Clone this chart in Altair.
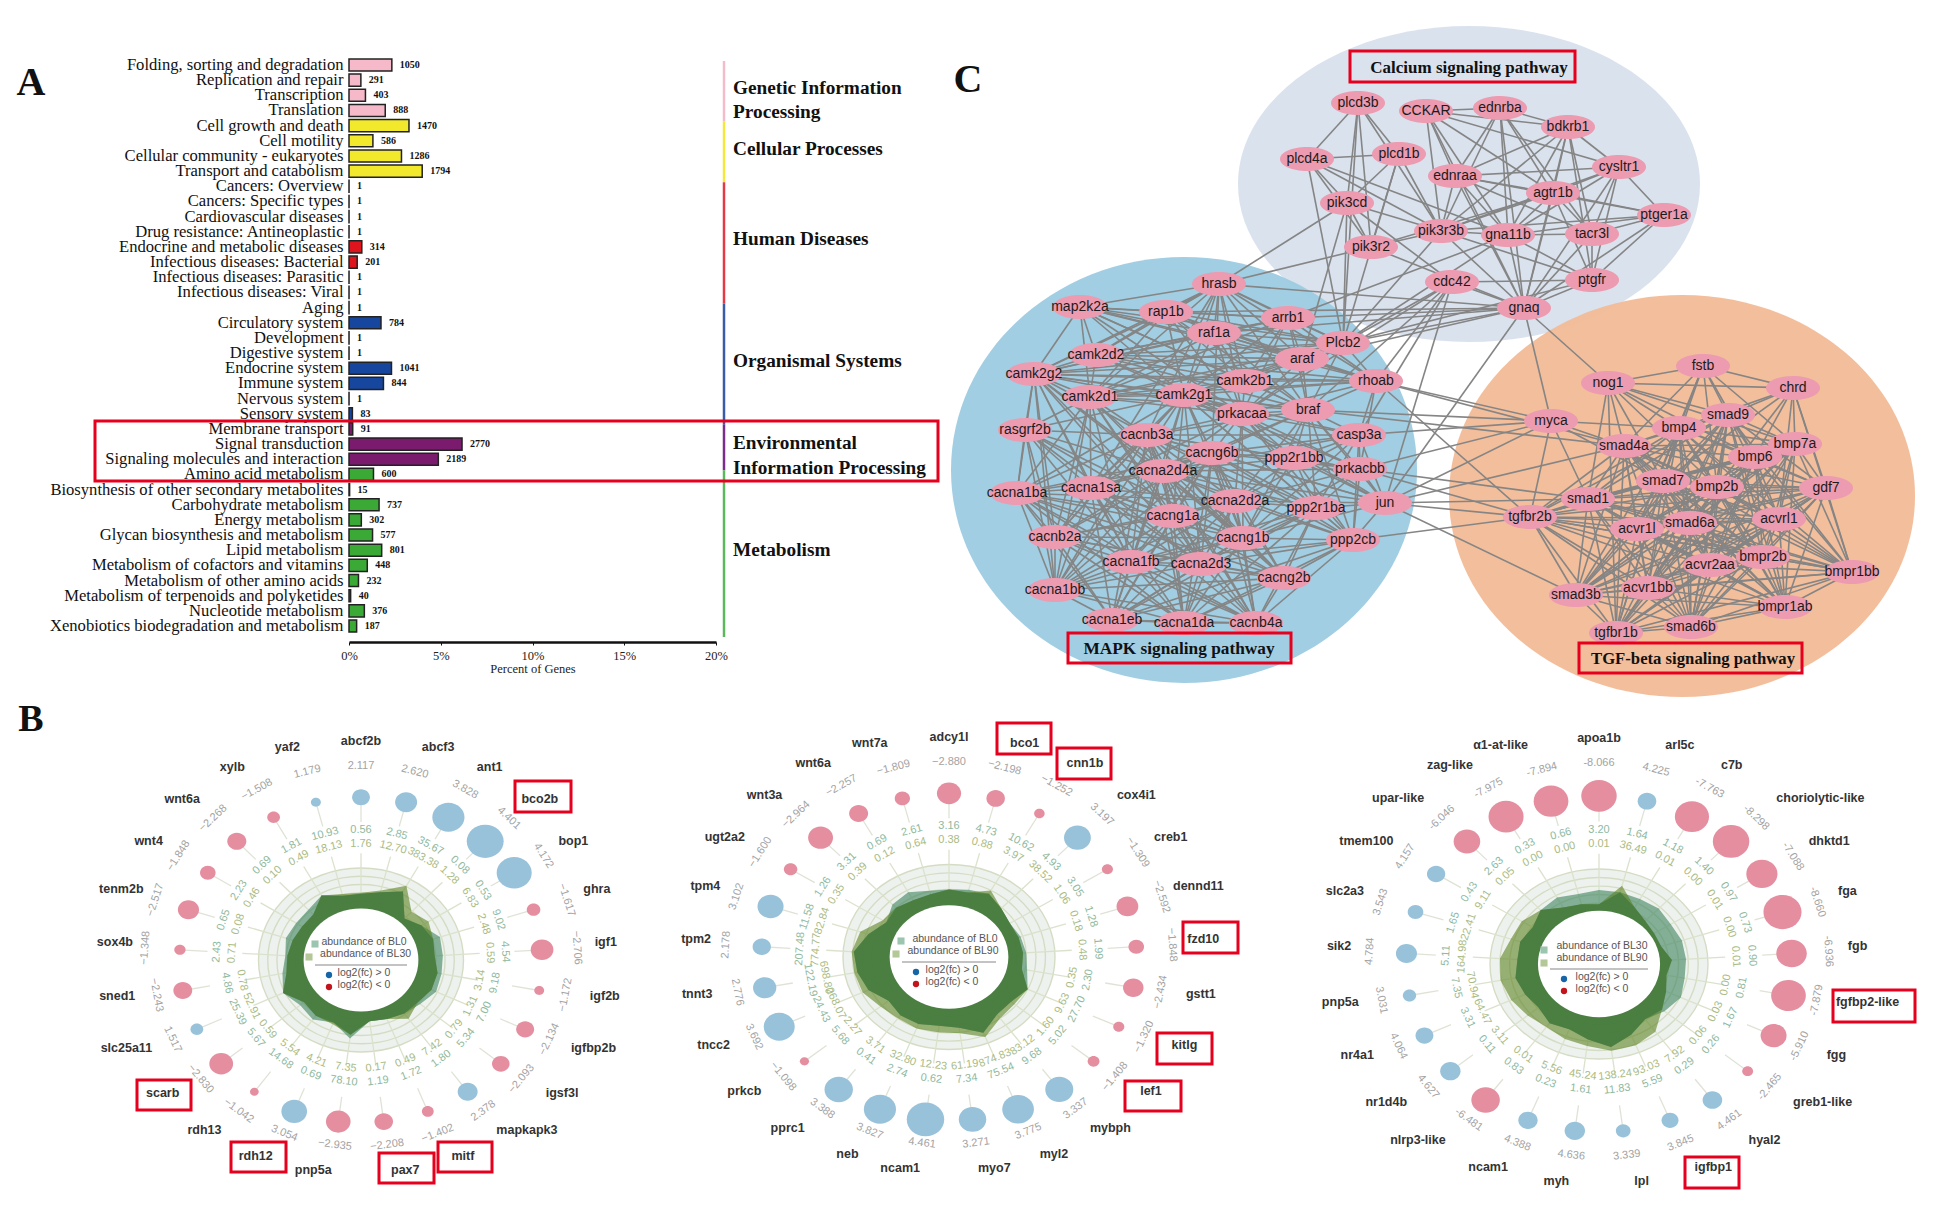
import numpy as np
import pandas as pd
import altair as alt

# ---------- Panel A ----------
A_CATS = ["Folding, sorting and degradation","Replication and repair","Transcription","Translation",
 "Cell growth and death","Cell motility","Cellular community - eukaryotes","Transport and catabolism",
 "Cancers: Overview","Cancers: Specific types","Cardiovascular diseases","Drug resistance: Antineoplastic",
 "Endocrine and metabolic diseases","Infectious diseases: Bacterial","Infectious diseases: Parasitic","Infectious diseases: Viral",
 "Aging","Circulatory system","Development","Digestive system","Endocrine system","Immune system","Nervous system","Sensory system",
 "Membrane transport","Signal transduction","Signaling molecules and interaction",
 "Amino acid metabolism","Biosynthesis of other secondary metabolites","Carbohydrate metabolism","Energy metabolism",
 "Glycan biosynthesis and metabolism","Lipid metabolism","Metabolism of cofactors and vitamins","Metabolism of other amino acids",
 "Metabolism of terpenoids and polyketides","Nucleotide metabolism","Xenobiotics biodegradation and metabolism"]
A_COUNTS = [1050,291,403,888,1470,586,1286,1794,1,1,1,1,314,201,1,1,1,784,1,1,1041,844,1,83,91,2770,2189,600,15,737,302,577,801,448,232,40,376,187]
A_TOTAL = 44970
A_GROUP_NAMES = ["Genetic","Cellular","Human","Organismal","Environmental","Metabolism"]
A_GROUP_ROWS = [0,4,8,16,24,27,38]
A_BAR_COLORS = ["#f6b9c9","#f2e92d","#e0141c","#17469e","#7a1b6e","#3aa935"]
A_LINE_COLORS = ["#f4bccb","#f5e83b","#e63946","#3a5ca8","#7b2d8b","#5cb85c"]

# ---------- Panel C ----------
NODES = {
"plcd3b":(1358,103),"CCKAR":(1426,111),"ednrba":(1500,108),"bdkrb1":(1568,127),"plcd4a":(1307,159),"plcd1b":(1399,154),
"cysltr1":(1619,167),"ednraa":(1455,176),"agtr1b":(1553,193),"pik3cd":(1347,203),"ptger1a":(1664,215),"pik3r3b":(1441,231),
"gna11b":(1508,235),"tacr3l":(1592,234),"pik3r2":(1371,247),"ptgfr":(1592,280),"cdc42":(1452,282),"hrasb":(1219,284),
"gnaq":(1524,308),"map2k2a":(1080,307),"rap1b":(1166,312),"arrb1":(1288,318),"raf1a":(1214,333),"Plcb2":(1343,343),
"camk2d2":(1096,355),"araf":(1302,359),"camk2g2":(1034,374),"rhoab":(1376,381),"camk2b1":(1245,381),"camk2d1":(1090,397),
"camk2g1":(1184,395),"braf":(1308,410),"prkacaa":(1242,414),"myca":(1551,421),"fstb":(1703,366),"nog1":(1608,383),
"chrd":(1793,388),"smad9":(1728,415),"bmp4":(1679,428),"rasgrf2b":(1025,430),"cacnb3a":(1147,435),"casp3a":(1359,435),
"smad4a":(1624,446),"bmp7a":(1795,444),"cacng6b":(1212,453),"bmp6":(1755,457),"ppp2r1bb":(1294,458),"prkacbb":(1360,469),
"cacna2d4a":(1163,471),"cacna1ba":(1017,493),"cacna1sa":(1091,488),"smad7":(1663,481),"bmp2b":(1717,487),"gdf7":(1826,488),
"cacna2d2a":(1235,501),"jun":(1385,503),"smad1":(1588,499),"ppp2r1ba":(1316,508),"cacng1a":(1173,516),"tgfbr2b":(1530,517),
"acvrl1":(1779,519),"smad6a":(1690,523),"acvr1l":(1637,529),"cacnb2a":(1055,537),"cacng1b":(1243,538),"ppp2cb":(1353,540),
"acvr2aa":(1710,565),"bmpr2b":(1763,557),"cacna1fb":(1131,562),"cacna2d3":(1201,564),"bmpr1bb":(1852,572),"cacng2b":(1284,578),
"smad3b":(1576,595),"acvr1bb":(1648,588),"cacna1bb":(1055,590),"bmpr1ab":(1785,607),"cacna1eb":(1112,620),"cacna1da":(1184,623),
"cacnb4a":(1256,623),"smad6b":(1691,627),"tgfbr1b":(1616,633)}
CLIQUES = [
 "cacna1ba cacna1sa cacna1bb cacna1eb cacna1da cacna1fb cacnb2a cacnb3a cacnb4a cacng1a cacng1b cacng2b cacng6b cacna2d2a cacna2d3 cacna2d4a",
 "camk2d2 camk2g2 camk2b1 camk2d1 camk2g1 hrasb rap1b map2k2a raf1a arrb1 araf braf rhoab Plcb2 prkacaa",
 "cacnb3a cacng6b ppp2r1bb cacna2d4a cacna2d2a ppp2r1ba cacng1b ppp2cb prkacbb prkacaa camk2g1 casp3a braf jun",
 "rasgrf2b cacna1ba cacna1sa cacnb2a cacna1bb cacna1fb cacng1a cacng1b cacna2d3 cacna2d4a cacnb3a camk2d1 camk2g1 camk2g2",
 "ppp2cb ppp2r1ba cacna1fb cacna2d3 cacng2b cacnb4a cacna1da cacna1eb",
 "hrasb camk2g1 prkacaa cacng6b cacnb3a cacna1sa",
 "fstb nog1 chrd smad9 bmp4 bmp6 bmp7a bmp2b",
 "smad4a smad9 smad7 smad1 smad6a smad3b smad6b bmp4 bmp6 bmp7a bmp2b gdf7 acvrl1 acvr1l acvr2aa acvr1bb bmpr2b bmpr1bb bmpr1ab tgfbr1b tgfbr2b",
 "nog1 smad4a smad1 smad7 tgfbr1b",
 "chrd gdf7 bmpr1bb acvrl1 bmp2b smad7",
 "fstb smad4a smad7 acvr1l bmp2b",
 "tgfbr2b tgfbr1b smad3b acvr1bb smad6b bmpr1ab",
]
EDGE_LISTS = {
"plcd3b":"plcd4a plcd1b pik3cd pik3r2 pik3r3b Plcb2",
"CCKAR":"ednrba bdkrb1 ednraa cysltr1 agtr1b pik3r3b gna11b gnaq",
"ednrba":"bdkrb1 ednraa agtr1b gna11b pik3r3b tacr3l gnaq",
"bdkrb1":"ednraa cysltr1 agtr1b pik3r3b gna11b tacr3l gnaq ptgfr",
"plcd4a":"plcd1b pik3cd pik3r2 pik3r3b gna11b Plcb2",
"plcd1b":"pik3cd pik3r3b pik3r2 Plcb2",
"cysltr1":"ednraa agtr1b ptger1a pik3r3b gna11b tacr3l ptgfr gnaq",
"ednraa":"agtr1b ptger1a gna11b tacr3l pik3r3b gnaq",
"agtr1b":"ptger1a pik3r3b gna11b tacr3l ptgfr gnaq pik3r2",
"ptger1a":"gna11b tacr3l pik3r3b ptgfr gnaq",
"pik3r3b":"gna11b pik3r2 ptgfr gnaq pik3cd Plcb2",
"gna11b":"tacr3l ptgfr gnaq Plcb2 arrb1",
"tacr3l":"ptgfr gnaq",
"pik3cd":"pik3r2 hrasb cdc42 Plcb2 araf",
"pik3r2":"hrasb gnaq",
"ptgfr":"cdc42 gnaq Plcb2",
"cdc42":"gnaq braf rhoab prkacaa casp3a Plcb2",
"gnaq":"hrasb rap1b arrb1 Plcb2 nog1 raf1a araf",
"rhoab":"myca smad4a tgfbr2b casp3a prkacbb",
"braf":"myca smad4a prkacbb",
"jun":"myca tgfbr2b smad1 smad3b smad4a cdc42 gnaq",
"ppp2cb":"tgfbr2b",
"casp3a":"myca jun",
"prkacbb":"smad1 tgfbr2b myca jun",
"ppp2r1ba":"jun",
"myca":"smad4a bmp4 smad1 smad7 tgfbr2b gnaq",
}
BIG_NAMES = ["Calcium","MAPK","TGF"]
BIG_CX = [1469,1184,1682]
BIG_CY = [184,470,496]
BIG_RX = [231,233,233]
BIG_RY = [158,213,201]
BIG_COLORS = ["#d8e0ec","#9ccbe0","#f2bb96"]

# ---------- Panel B ----------
B1_GENES = ["abcf2b","abcf3","ant1","bco2b","bop1","ghra","igf1","igf2b","igfbp2b","igsf3l","mapkapk3","mitf","pax7","pnp5a","rdh12","rdh13","scarb","slc25a11","sned1","sox4b","tenm2b","wnt4","wnt6a","xylb","yaf2"]
B1_FC = [2.117,2.620,3.828,4.401,4.172,-1.617,-2.706,-1.172,-2.134,-2.093,2.378,-1.402,-2.208,-2.935,3.054,-1.042,-2.830,1.517,-2.243,-1.348,-2.517,-1.848,-2.268,-1.508,1.179]
B1_A = [0.56,2.85,35.67,0.08,0.53,9.02,4.54,9.18,7.00,5.34,1.80,1.72,1.19,78.10,0.69,14.68,5.67,25.39,4.86,2.43,0.65,2.23,0.69,1.81,10.93]
B1_B = [1.76,12.70,383.38,1.28,6.83,2.48,0.59,3.14,1.31,0.79,7.42,0.49,0.17,7.35,4.21,5.54,0.59,52.91,0.78,0.71,0.08,0.46,0.10,0.49,18.13]
B1_RA = [.72,.76,.85,.62,.70,.81,.80,.80,.81,.75,.72,.69,.67,.86,.73,.80,.77,.84,.78,.74,.77,.75,.75,.80,.72]
B1_RB = [.73,.78,.92,.72,.78,.74,.72,.76,.76,.72,.79,.69,.67,.82,.75,.75,.72,.84,.74,.72,.70,.68,.68,.80,.74]
B2_GENES = ["adcy1l","bco1","cnn1b","cox4i1","creb1","dennd11","fzd10","gstt1","kitlg","lef1","mybph","myl2","myo7","ncam1","neb","pprc1","prkcb","tncc2","tnnt3","tpm2","tpm4","ugt2a2","wnt3a","wnt6a","wnt7a"]
B2_FC = [-2.880,-2.198,-1.252,3.197,-1.309,-2.592,-1.848,-2.434,-1.320,-1.408,3.337,3.775,3.271,4.461,3.827,3.388,-1.098,3.692,2.776,2.178,3.102,-1.600,-2.964,-2.257,-1.809]
B2_A = [3.16,4.73,10.62,4.93,3.05,1.28,1.99,2.30,27.70,5.02,9.68,75.54,7.34,0.62,2.74,0.41,5.68,24.43,122.19,207.48,11.58,1.26,3.31,0.69,2.61]
B2_B = [0.38,0.88,3.97,38.52,1.06,0.18,0.48,0.35,9.63,1.60,83.12,874.83,61.19,12.23,32.80,3.71,2.27,268.07,698.80,774.77,82.84,0.35,0.39,0.12,0.64]
B2_RA = [.73,.75,.78,.72,.68,.71,.73,.75,.82,.76,.77,.88,.77,.75,.78,.78,.74,.84,.88,.90,.80,.70,.78,.80,.74]
B2_RB = [.73,.72,.82,.72,.68,.69,.70,.70,.82,.80,.82,.93,.83,.82,.83,.82,.84,.90,.91,.92,.88,.74,.73,.70,.70]
B3_GENES = ["apoa1b","arl5c","c7b","choriolytic-like","dhktd1","fga","fgb","fgfbp2-like","fgg","greb1-like","hyal2","igfbp1","lpl","myh","ncam1","nlrp3-like","nr1d4b","nr4a1","pnp5a","sik2","slc2a3","tmem100","upar-like","zag-like","α1-at-like"]
B3_FC = [-8.066,4.225,-7.763,-8.298,-7.088,-8.660,-6.936,-7.879,-5.910,-2.465,4.461,3.845,3.339,4.636,4.388,-6.481,4.627,4.064,3.031,4.784,3.543,4.157,-6.046,-7.975,-7.894]
B3_A = [3.20,1.64,1.18,1.40,0.97,0.73,0.90,0.81,1.67,0.26,0.29,5.59,11.83,1.61,0.23,0.83,0.11,3.31,7.35,5.11,1.65,0.43,2.63,0.33,0.66]
B3_B = [0.01,36.49,0.01,0.00,0.01,0.00,0.01,0.00,0.03,0.06,7.92,93.03,138.24,45.24,5.56,0.01,3.11,64.47,70.94,164.98,22.41,9.11,0.05,0.00,0.00]
B3_RA = [.78,.78,.78,.80,.78,.80,.80,.80,.83,.78,.72,.80,.88,.80,.74,.77,.72,.75,.78,.75,.76,.72,.78,.80,.76]
B3_RB = [.63,.85,.68,.62,.60,.60,.67,.63,.68,.75,.88,.92,.92,.87,.85,.82,.85,.89,.92,.91,.85,.84,.78,.68,.65]

# Red annotation frames: left, right, top, bottom on the page
BOXES = [(95,938,421,481),(1350,1575,51,82),(1068,1291,633,663),(1579,1802,643,673),
 (515,571,781,812),(137,191,1080,1110),(231,286,1142,1172),(379,434,1153,1183),(438,492,1142,1172),
 (997,1051,723,754),(1057,1111,748,779),(1183,1238,922,953),(1157,1212,1033,1064),(1125,1181,1081,1111),
 (1685,1739,1157,1188),(1833,1915,990,1022)]
PAGE_TEXTS = [
 ("A",31,83,40,"center"),("B",31,720,38,"center"),("C",968,80,40,"center"),
 ("Genetic Information",733,88,19.3,"left"),("Processing",733,112,19.3,"left"),("Cellular Processes",733,149,19.3,"left"),
 ("Human Diseases",733,239,19.3,"left"),("Organismal Systems",733,361,19.3,"left"),("Environmental",733,443,19.3,"left"),
 ("Information Processing",733,468,19.3,"left"),("Metabolism",733,550,19.3,"left"),
 ("Calcium signaling pathway",1469,68,17,"center"),("MAPK signaling pathway",1179,649,17.3,"center"),("TGF-beta signaling pathway",1693,659,16.7,"center")]

W, H = 1931, 1192
SERIF = "Liberation Serif"
SANS = "Liberation Sans"

def ell(ratio):
    return f"M-1,0A1,{ratio:.4f},0,1,1,1,0A1,{ratio:.4f},0,1,1,-1,0Z"

pageX = alt.Scale(domain=[0,1947], range=[-8,1939])
pageY = alt.Scale(domain=[0,1208], range=[-8,1200])

# ---- A bars ----
group_of = np.searchsorted(A_GROUP_ROWS[1:], np.arange(38), side="right")
dfA = pd.DataFrame({"cat":A_CATS,"count":A_COUNTS,"pct":np.array(A_COUNTS)/A_TOTAL*100,
                    "fill":[A_BAR_COLORS[g] for g in group_of]})
xA = alt.X("pct:Q", scale=alt.Scale(domain=[0,20], range=[341,708]),
           axis=alt.Axis(values=[0,5,10,15,20], labelExpr="datum.value + '%'", title="Percent of Genes", grid=False,
                         offset=-(H-634), labelFont=SERIF, labelFontSize=12.5, labelColor="#222", titleFont=SERIF,
                         titleFontSize=12.5, titleColor="#222", titleFontWeight="normal", domainColor="#111", domainWidth=2.5,
                         tickColor="#111", tickSize=3, labelPadding=4, titlePadding=1, labelFlush=False))
yA = alt.Y("cat:N", sort=A_CATS, title=None,
           scale=alt.Scale(range=[49.4,625.6], paddingInner=0.2, paddingOuter=0.1),
           axis=alt.Axis(offset=-341, domain=False, ticks=False, labelFont=SERIF, labelFontSize=16.6, labelColor="#111",
                         labelLimit=400, labelPadding=6, grid=False, title=None))
barsA = alt.Chart(dfA).mark_bar(stroke="#222", strokeWidth=1.5).encode(x=xA, y=yA, fill=alt.Fill("fill:N", scale=None))
textA = alt.Chart(dfA).mark_text(align="left", dx=8, font=SERIF, fontSize=10, fontWeight="bold", color="#111").encode(x=xA, y=yA, text="count:Q")
panelA = alt.layer(barsA, textA)

dfG = pd.DataFrame({"name":A_GROUP_NAMES,"r0":A_GROUP_ROWS[:-1],"r1":A_GROUP_ROWS[1:],"c":A_LINE_COLORS})
panelG = alt.Chart(dfG).mark_rule(strokeWidth=2.5).encode(
    x=alt.value(716),
    y=alt.Y("r0:Q", scale=alt.Scale(domain=[0,38], range=[53,629]), axis=None),
    y2="r1:Q", color=alt.Color("c:N", scale=None))

# ---- C network ----
def edges():
    seen = {}
    def add(a,b):
        if a!=b and (b,a) not in seen:
            seen[(a,b)] = True
    for c in CLIQUES:
        n = c.split()
        for i in range(len(n)):
            for j in range(i+1,len(n)):
                add(n[i],n[j])
    for a,l in EDGE_LISTS.items():
        for b in l.split():
            add(a,b)
    return list(seen)
E = edges()
dfE = pd.DataFrame({"x":[NODES[a][0] for a,b in E],"y":[NODES[a][1] for a,b in E],
                    "x2":[NODES[b][0] for a,b in E],"y2":[NODES[b][1] for a,b in E]})
dfN = pd.DataFrame({"name":list(NODES),"x":[v[0] for v in NODES.values()],"y":[v[1] for v in NODES.values()]})
px = alt.X("x:Q", scale=pageX, axis=None)
py = alt.Y("y:Q", scale=pageY, axis=None)
big = []
for cx,cy,rx,ry,c in zip(BIG_CX,BIG_CY,BIG_RX,BIG_RY,BIG_COLORS):
    big.append(alt.Chart(pd.DataFrame({"x":[cx],"y":[cy]})).mark_point(
        shape=ell(ry/rx), filled=True, size=(2*rx)**2, color=c, opacity=0.95).encode(x=px,y=py))
edgeC = alt.Chart(dfE).mark_rule(color="#858585", strokeWidth=1.6).encode(x=px,y=py,x2="x2:Q",y2="y2:Q")
nodeC = alt.Chart(dfN).mark_point(shape=ell(12/27), filled=True, size=54**2, color="#ec9bb0", opacity=1).encode(x=px,y=py)
labC = alt.Chart(dfN).mark_text(font=SANS, fontSize=14, color="#1c1c1c").encode(x=px,y=py,text="name:N")
panelC = alt.layer(*big, edgeC, nodeC, labC)

# ---- B radial ----
C_GREEN = "#8fb9a0"; C_OLIVE = "#a9bb84"
def radial(genes, fc, a, b, ra, rb, cx, cy, rx, ry, k, names, sq, dots_x, line_half, txt_dx, minus):
    n = len(genes)
    th = np.arange(n)*2*np.pi/n
    s, c = np.sin(th), np.cos(th)
    deg = np.degrees(th)
    rot = np.where((deg<90)|(deg>270), deg, deg-180)
    ux = alt.Scale(domain=[-1,1], range=[cx-8-rx, cx-8+rx])
    uy = alt.Scale(domain=[-1,1], range=[cy-8+ry, cy-8-ry])
    X = alt.X("x:Q", scale=ux, axis=None); Y = alt.Y("y:Q", scale=uy, axis=None)
    fca = np.array(fc)
    O = pd.DataFrame({"x":[0],"y":[0]})
    def disk(r, **kw):
        return alt.Chart(O).mark_point(shape=ell(ry/rx), size=(2*r*rx)**2, opacity=1, **kw).encode(x=X,y=Y)
    layers = [disk(1.0, filled=True, color="#eef2ee")]
    for r in (1.0,.91,.82,.73,.64):
        layers.append(disk(r, filled=False, stroke="#d5dcc4", strokeWidth=1.4))
    spoke = pd.DataFrame({"x":.5*s,"y":.5*c,"x2":1.16*s,"y2":1.16*c})
    layers.append(alt.Chart(spoke).mark_rule(color="#dbe2cc", strokeWidth=1.3).encode(x=X,y=Y,x2="x2:Q",y2="y2:Q"))
    def poly(r):
        r = np.array(r); q = ry/rx
        pts = [f"{v*si:.4f},{-v*co*q:.4f}" for v,si,co in zip(r,s,c)]
        return "M"+"L".join(pts)+"Z"
    layers.append(alt.Chart(O).mark_point(shape=poly(ra), filled=True, size=(2*rx)**2, color="#3a825b", opacity=0.6).encode(x=X,y=Y))
    layers.append(alt.Chart(O).mark_point(shape=poly(rb), filled=True, size=(2*rx)**2, color="#5b8221", opacity=0.6).encode(x=X,y=Y))
    layers.append(alt.Chart(O).mark_point(shape=poly(np.minimum(ra,rb)), filled=True, size=(2*rx)**2, color="#44793f", opacity=0.8).encode(x=X,y=Y))
    layers.append(disk(.56, filled=True, color="#ffffff"))
    R_B = 1.77
    stem = pd.DataFrame({"x":1.5*s,"y":1.5*c,"x2":R_B*s,"y2":R_B*c})
    layers.append(alt.Chart(stem).mark_rule(color="#dfe3d6", strokeWidth=1.3).encode(x=X,y=Y,x2="x2:Q",y2="y2:Q"))
    bub = pd.DataFrame({"x":R_B*s,"y":R_B*c,"f2":fca**2,"c":np.where(fca>0,"#97c2da","#e48e9f")})
    m = float((fca**2).max())
    layers.append(alt.Chart(bub).mark_point(shape=ell(.9), filled=True, opacity=1).encode(
        x=X,y=Y,color=alt.Color("c:N",scale=None),
        size=alt.Size("f2:Q",scale=alt.Scale(domain=[0,m],range=[0,(2*k)**2*m]),legend=None)))
    def ring(vals, R, color, size):
        d = pd.DataFrame({"x":R*s,"y":R*c,"t":vals,"rot":(rot+360)%360})
        return alt.Chart(d).mark_text(font=SANS, fontSize=size, color=color, dy=-4).encode(
            x=X,y=Y,text="t:N",angle=alt.Angle("rot:Q",scale=None))
    layers.append(ring([f"{v:.2f}" for v in b], 1.22, C_OLIVE, 11))
    layers.append(ring([f"{v:.2f}" for v in a], 1.37, C_GREEN, 11))
    layers.append(ring([f"{v:.3f}".replace("-",minus) for v in fc], 2.07, "#a3a3a3", 11))
    half = np.array([len(g) for g in genes])*3.4
    side = np.sign(np.round(s,6))*half*(0.35+0.7*np.abs(c))
    lab = pd.DataFrame({"x":2.34*s+side/rx,"y":2.34*c,"t":genes})
    layers.append(alt.Chart(lab).mark_text(font=SANS, fontSize=12.5, fontWeight="bold", color="#333", dy=-4).encode(x=X,y=Y,text="t:N"))
    # centre legend
    for nm,(dx,dy),col,tx,ty in zip(names,sq,["#9cc5b0","#b4c796"],txt_dx[:2],(-18,-6)):
        layers.append(alt.Chart(O).mark_square(size=50, color=col, opacity=1, xOffset=dx, yOffset=dy).encode(x=X,y=Y))
        layers.append(alt.Chart(O).mark_text(text=f"abundance of {nm}", font=SANS, fontSize=10.5, color="#555", dx=tx, dy=ty).encode(x=X,y=Y))
    layers.append(alt.Chart(O).mark_rule(color="#888", strokeWidth=1.2, xOffset=-line_half, x2Offset=line_half, yOffset=5, y2Offset=5).encode(x=X,y=Y,x2="x:Q",y2="y:Q"))
    for t,col,dy in [("log2(fc) > 0","#1565a8",15),("log2(fc) < 0","#c3141c",27)]:
        layers.append(alt.Chart(O).mark_circle(size=40,color=col,opacity=1,xOffset=dots_x,yOffset=dy).encode(x=X,y=Y))
        layers.append(alt.Chart(O).mark_text(text=t, font=SANS, fontSize=10.5, color="#555", dx=txt_dx[2], dy=dy-2).encode(x=X,y=Y))
    return alt.layer(*layers)

panelB1 = radial(B1_GENES,B1_FC,B1_A,B1_B,B1_RA,B1_RB,361,960,102.5,92,4.2,["BL0","BL30"],[(-46,-16),(-52,-3)],-32,46,(3,4.6,3),"−")
panelB2 = radial(B2_GENES,B2_FC,B2_A,B2_B,B2_RA,B2_RB,949,957,106,92.5,4.2,["BL0","BL90"],[(-48,-16),(-53,-3)],-33,47,(6,4,3),"−")
panelB3 = radial(B3_GENES,B3_FC,B3_A,B3_B,B3_RA,B3_RB,1599,964,109,95,2.2,["BL30","BL90"],[(-55,-14),(-55,-1)],-35,49,(3,3,3),"-")

# ---- page annotations ----
dfBox = pd.DataFrame(BOXES, columns=["x","x2","y","y2"])
boxes = alt.Chart(dfBox).mark_rect(fillOpacity=0, stroke="#e6001e", strokeWidth=3).encode(x=px,y=py,x2="x2:Q",y2="y2:Q")
texts = []
for t,x,y,size,al in PAGE_TEXTS:
    texts.append(alt.Chart(pd.DataFrame({"x":[x],"y":[y]})).mark_text(text=t, font=SERIF, fontSize=size, fontWeight="bold", align=al, color="#111").encode(x=px,y=py))
panelP = alt.layer(boxes, *texts)

chart = alt.layer(panelA, panelG, panelC, panelB1, panelB2, panelB3, panelP).resolve_scale(
    x="independent", y="independent", size="independent"
).properties(width=W, height=H, padding=0, background="white",
             autosize=alt.AutoSizeParams(type="none")).configure_view(stroke=None)

chart.save("out.html", embed_options={"renderer": "svg", "actions": False})
